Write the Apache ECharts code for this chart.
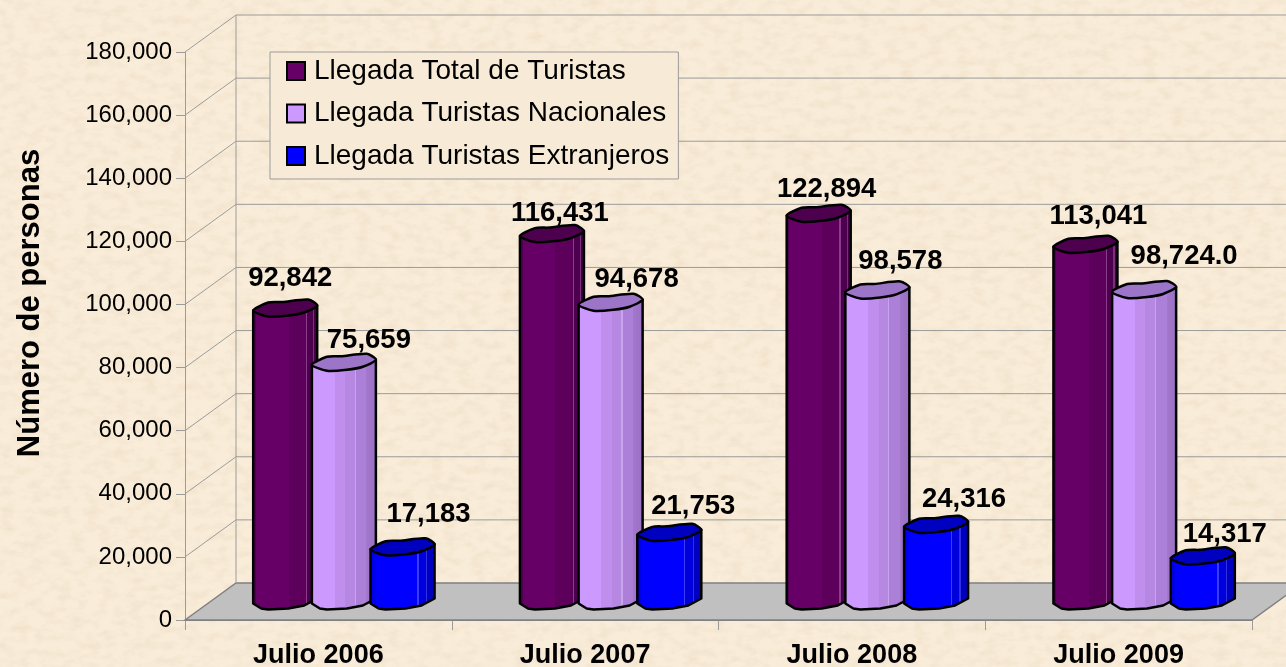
<!DOCTYPE html>
<html>
<head>
<meta charset="utf-8">
<script src="https://cdn.jsdelivr.net/npm/echarts@6/dist/echarts.min.js"></script>
<style>
html, body { margin: 0; padding: 0; width: 1286px; height: 667px; overflow: hidden; }
body {
  background-color: #f7ebd7;
  background-image: url("data:image/svg+xml,%3Csvg xmlns='http://www.w3.org/2000/svg' width='1286' height='667'%3E%3Cfilter id='n' x='0' y='0' width='100%25' height='100%25'%3E%3CfeTurbulence type='fractalNoise' baseFrequency='.07 .12' numOctaves='4' seed='7'/%3E%3CfeColorMatrix values='0 0 0 0 .84 0 0 0 0 .70 0 0 0 0 .52 0 0 0 1.1 -.42'/%3E%3C/filter%3E%3Crect width='1286' height='667' fill='%23f9edda'/%3E%3Crect width='1286' height='667' filter='url(%23n)'/%3E%3C/svg%3E");
}
#chart { width: 1286px; height: 667px; }
</style>
</head>
<body>
<div id="chart"></div>
<script>
const categories = ['Julio 2006', 'Julio 2007', 'Julio 2008', 'Julio 2009']
const seriesNames = ['Llegada Total de Turistas', 'Llegada Turistas Nacionales', 'Llegada Turistas Extranjeros']
const totalTuristas = [92842, 116431, 122894, 113041]
const nacionales = [75659, 94678, 98578, 98724]
const extranjeros = [17183, 21753, 24316, 14317]
const totalLabels = ['92,842', '116,431', '122,894', '113,041']
const nacionalesLabels = ['75,659', '94,678', '98,578', '98,724.0']
const extranjerosLabels = ['17,183', '21,753', '24,316', '14,317']
const yTicks = [0, 20000, 40000, 60000, 80000, 100000, 120000, 140000, 160000, 180000]

// fake 3d depth of the excel chart
const DEPTH_X = 51
const DEPTH_Y = -37
const FONT = '"Liberation Sans", Arial, sans-serif'

// manually dragged data labels in the original, offset from the bar top
const labelOffsets = [
  [[5, -30], [8, -21], [8, -24], [13, -28]],
  [[25, -22], [26, -23], [23, -29], [40, -34]],
  [[26, -33], [24, -26], [28, -25], [22, -22]]
]

const barStyles = [
  {
    top: '#4d004d',
    stops: [[0, '#4f0050'], [0.06, '#4f0050'], [0.06, '#660066'], [0.55, '#660066'], [0.55, '#5c005c'],
      [0.81, '#5c005c'], [0.81, '#8a3c8a'], [0.83, '#8a3c8a'], [0.83, '#4d004d'], [0.92, '#4d004d'],
      [0.92, '#7a2f7a'], [0.94, '#7a2f7a'], [0.94, '#470047'], [1, '#470047']]
  },
  {
    top: '#9c74c8',
    stops: [[0, '#c494f6'], [0.04, '#cc99ff'], [0.36, '#cc99ff'], [0.36, '#c08fee'], [0.52, '#c08fee'],
      [0.52, '#b688e2'], [0.66, '#b688e2'], [0.66, '#c8a4ec'], [0.68, '#c8a4ec'], [0.68, '#ac7fd8'],
      [0.84, '#ac7fd8'], [0.84, '#a277cc'], [1, '#9a70c2']]
  },
  {
    top: '#0000c0',
    stops: [[0, '#0000e6'], [0.08, '#0000e6'], [0.08, '#0000ff'], [0.72, '#0000ff'], [0.72, '#3c3cff'],
      [0.74, '#3c3cff'], [0.74, '#0000dc'], [0.85, '#0000dc'], [0.85, '#3030e0'], [0.87, '#3030e0'],
      [0.87, '#0000c4'], [1, '#0000bc']]
  }
]

// outline of the top cap around the bar centre
const capFront = [[-32, 2], [-17, 8], [3, 7], [19, 4], [32, -3]]
const capBack = [[23, -9], [-3, -6.5], [-17, -6]]
const baseFront = [[-32, 2], [-24, 7], [-17, 8], [3, 7], [19, 4], [32, -3]]

function wallItem(params, api) {
  const v = api.value(1)
  const w = api.size([1, 0])[0]
  const p = api.coord([0, v])
  const left = p[0] - w / 2
  const right = api.coord([categories.length - 1, v])[0] + w / 2
  const line = { fill: 'none', stroke: '#9b9b9b', lineWidth: 1 }
  const children = []
  if (v === 0) {
    children.push({
      type: 'polygon',
      shape: { points: [[left, p[1]], [left + DEPTH_X, p[1] + DEPTH_Y], [right + DEPTH_X, p[1] + DEPTH_Y], [right, p[1]]] },
      style: { fill: '#c0c0c0', stroke: '#808080', lineWidth: 1.5 }
    })
    const topY = api.coord([0, yTicks[yTicks.length - 1]])[1]
    children.push({
      type: 'line',
      shape: { x1: left + DEPTH_X, y1: topY + DEPTH_Y, x2: left + DEPTH_X, y2: p[1] + DEPTH_Y },
      style: line
    })
  } else {
    children.push({
      type: 'polyline',
      shape: { points: [[left, p[1]], [left + DEPTH_X, p[1] + DEPTH_Y], [right + DEPTH_X, p[1] + DEPTH_Y]] },
      style: line
    })
  }
  return { type: 'group', children }
}

function barItem(s, labels) {
  return function (params, api) {
    const i = api.value(0)
    const v = api.value(1)
    const w = api.size([1, 0])[0]
    const cx = api.coord([i, v])[0] + DEPTH_X / 2 + (s - 1) * w * 0.22
    const topY = api.coord([i, v])[1] + DEPTH_Y / 2
    const baseY = api.coord([i, 0])[1] + DEPTH_Y / 2
    const st = barStyles[s]
    const body = baseFront.map((d) => [cx + d[0], baseY + d[1]])
    body.push([cx + 32, topY - 3], [cx - 32, topY + 2])
    const cap = capFront.concat(capBack).map((d) => [cx + d[0], topY + d[1]])
    const off = labelOffsets[s][i]
    return {
      type: 'group',
      children: [
        {
          type: 'polygon',
          shape: { points: body },
          style: {
            fill: new echarts.graphic.LinearGradient(0, 0, 1, 0, st.stops.map((c) => ({ offset: c[0], color: c[1] }))),
            stroke: '#000',
            lineWidth: 2.5,
            lineJoin: 'round'
          }
        },
        {
          type: 'polygon',
          shape: { points: cap, smooth: 0.25 },
          style: { fill: st.top, stroke: '#000', lineWidth: 2.5, lineJoin: 'round' }
        },
        {
          type: 'text',
          z2: 10,
          style: {
            x: cx + off[0],
            y: topY + off[1],
            text: labels[i],
            fill: '#000',
            font: 'bold 27.5px ' + FONT,
            align: 'center',
            verticalAlign: 'middle'
          }
        }
      ]
    }
  }
}

function barSeries(s, values, labels, color) {
  return {
    name: seriesNames[s],
    type: 'custom',
    coordinateSystem: 'cartesian2d',
    renderItem: barItem(s, labels),
    encode: { x: 0, y: 1 },
    itemStyle: { color, borderColor: '#000', borderWidth: 2 },
    data: values.map((v, i) => [i, v]),
    z: 5 + s
  }
}

const chart = echarts.init(document.getElementById('chart'), null, { renderer: 'canvas' })
chart.setOption({
  backgroundColor: 'transparent',
  animation: false,
  grid: { left: 185, right: 34, top: 52, bottom: 47, outerBoundsMode: 'none' },
  legend: {
    orient: 'vertical',
    left: 270,
    top: 52,
    data: seriesNames,
    icon: 'rect',
    itemWidth: 18,
    itemHeight: 18,
    itemGap: 14.5,
    padding: [5, 9, 9, 16],
    backgroundColor: '#f7ebd7',
    borderColor: '#9b9b9b',
    borderWidth: 1,
    textStyle: { color: '#000', fontFamily: FONT, fontSize: 28, padding: [0, 0, 0, 4] },
    selectedMode: false,
    z: 20
  },
  xAxis: {
    type: 'category',
    data: categories,
    axisLine: { show: true, lineStyle: { color: '#808080' } },
    axisTick: { show: true, alignWithLabel: false, length: 10, lineStyle: { color: '#9b9b9b' } },
    axisLabel: { color: '#000', fontFamily: FONT, fontSize: 27, fontWeight: 'bold', margin: 22 },
    splitLine: { show: false }
  },
  yAxis: {
    type: 'value',
    min: 0,
    max: 180000,
    interval: 20000,
    name: 'Número de personas',
    nameLocation: 'middle',
    nameRotate: 90,
    nameGap: 139,
    nameTextStyle: { color: '#000', fontFamily: FONT, fontSize: 31, fontWeight: 'bold', padding: [0, 0, 0, 66] },
    axisLine: { show: true, lineStyle: { color: '#9b9b9b' } },
    axisTick: { show: true, length: 9, lineStyle: { color: '#9b9b9b' } },
    axisLabel: {
      color: '#000',
      fontFamily: FONT,
      fontSize: 24,
      margin: 13,
      formatter: (v) => v.toLocaleString('en-US')
    },
    splitLine: { show: false }
  },
  series: [
    {
      name: 'wall',
      type: 'custom',
      coordinateSystem: 'cartesian2d',
      renderItem: wallItem,
      encode: { x: 0, y: 1 },
      silent: true,
      data: yTicks.map((t) => [0, t]),
      z: 1
    },
    barSeries(0, totalTuristas, totalLabels, '#660066'),
    barSeries(1, nacionales, nacionalesLabels, '#cc99ff'),
    barSeries(2, extranjeros, extranjerosLabels, '#0000ff')
  ]
})
</script>
</body>
</html>
